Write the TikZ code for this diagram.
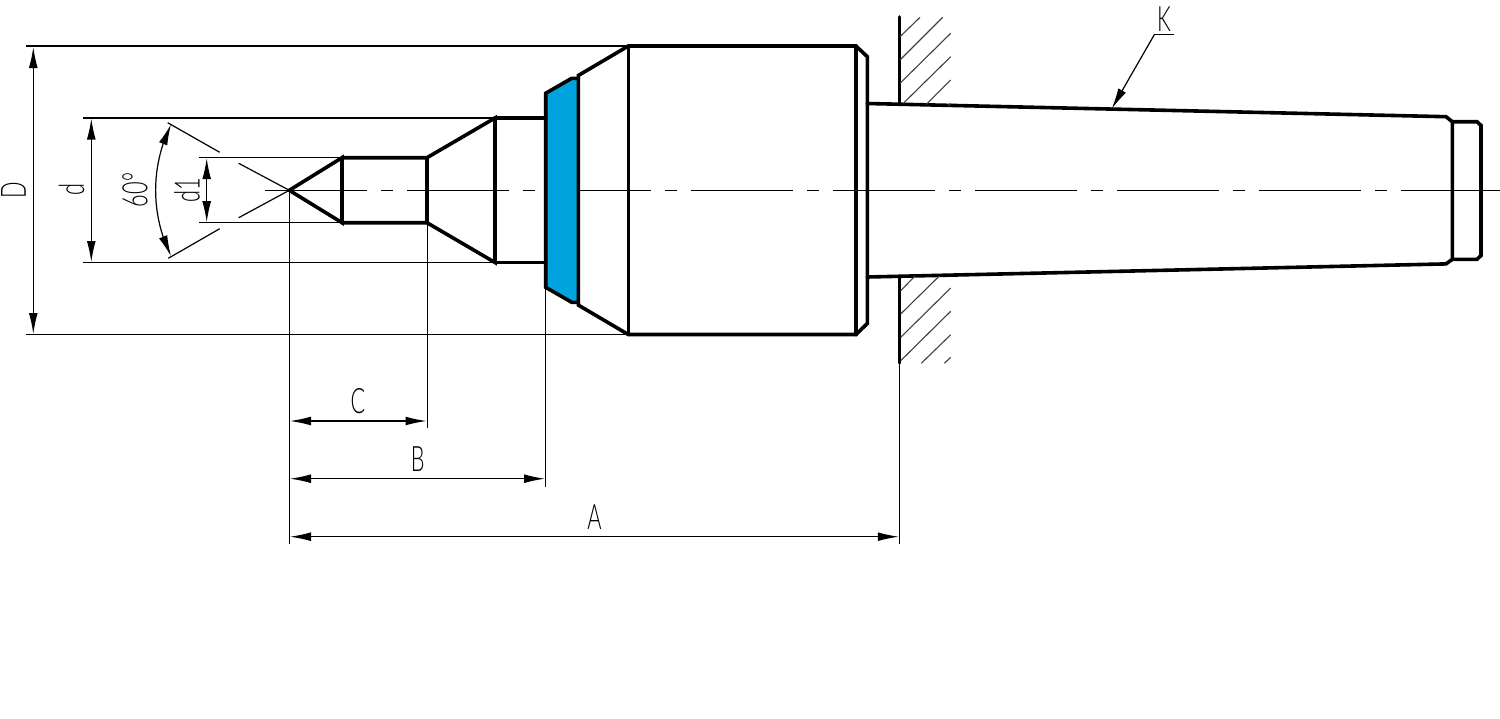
\documentclass[tikz,border=0pt]{standalone}
\usepackage{fontspec}
\setmainfont{Lato}[UprightFont=* Light]
\usetikzlibrary{arrows.meta,bending}
\definecolor{partblue}{HTML}{00A3DD}
\tikzset{
  x=0.5pt,y=-0.5pt,
  outline/.style={line width=1.8pt,line join=miter,line cap=round},
  thinl/.style={line width=0.6pt},
  hatch/.style={line width=0.55pt,black!75},
  dimen/.style={thinl,{Latex[length=10.5pt,width=4.4pt]}-{Latex[length=10.5pt,width=4.4pt]}},
  leader/.style={thinl,-{Latex[length=10.5pt,width=4.4pt]}},
  axisline/.style={thinl,dash pattern=on 51pt off 7pt on 6pt off 7pt},
  lab/.style={inner sep=0pt,font=\fontsize{17.5}{18}\selectfont,xscale=0.62},
  rlab/.style={inner sep=0pt,font=\fontsize{17.5}{18}\selectfont,rotate=90,xscale=0.62},
}
\begin{document}
\begin{tikzpicture}
\useasboundingbox (0,0) rectangle (1500,718);
% key points
\coordinate (tip) at (289.3,190.3);
\coordinate (n1t) at (342,157.7);
\coordinate (n1b) at (342,222.7);
\coordinate (n2t) at (427,157.7);
\coordinate (n2b) at (427,222.7);
\coordinate (n3t) at (495,118);
\coordinate (n3b) at (495,262.5);
\coordinate (bt) at (545.7,118);
\coordinate (bb) at (545.7,262.5);
\coordinate (bt1) at (545.7,93.3);
\coordinate (bb1) at (545.7,287.3);
\coordinate (bt2) at (571.7,78.3);
\coordinate (bb2) at (571.7,302.3);
\coordinate (bt3) at (578.3,78.3);
\coordinate (bb3) at (578.3,302.3);
\coordinate (ct) at (578.3,75.5);
\coordinate (cb) at (578.3,305.1);
\coordinate (bodyt) at (628.3,46);
\coordinate (bodyb) at (628.3,334.5);
\coordinate (bodyrt) at (856,46);
\coordinate (bodyrb) at (856,334.5);
\coordinate (wallb) at (899.3,544);
% axis
\draw[axisline] (265,190.3) -- (1500,190.3);
% blue ring
\draw[outline,fill=partblue] (bt1) -- (bt2) -- (bt3) -- (bb3) -- (bb2) -- (bb1) -- cycle;
% point and body
\draw[outline] (tip) -- (n1t) -- (n1b) -- cycle;
\draw[outline] (n1t) -- (n2t) -- (n3t) -- (n3b) -- (n2b) -- (n1b);
\draw[outline] (n2t) -- (n2b);
\draw[outline] (n3t) -- (bt);
\draw[outline] (n3b) -- (bb);
\draw[outline] (bt3) -- (ct) -- (bodyt) -- (bodyrt) -- (867.3,56.7) -- (867.3,323.5) -- (bodyrb) -- (bodyb) -- (cb) -- (bb3);
\draw[outline] (bodyt) -- (bodyb);
\draw[outline] (bodyrt) -- (bodyrb);
% morse taper
\draw[outline] (867.3,103.5) -- (1446,116.7) -- (1452.3,121.7) -- (1452.3,259.3) -- (1446,263.9) -- (867.3,277);
\draw[outline] (1452.3,121.7) -- (1477,121.7) -- (1481,125.5) -- (1481,255.5) -- (1477,259.3) -- (1452.3,259.3);
% wall
\draw[outline] (899.3,17) -- (899.3,103.5);
\draw[outline] (899.3,276.5) -- (899.3,363);
\foreach \a/\b/\c/\d in {
  900/36.7/920/17.3, 900/60/942.7/17.3, 900/83.3/950.7/33.3, 903.3/103.3/950.7/56.7,
  926/104.7/950.7/80, 948.3/106/950.7/103.3,
  900.7/290.7/915/276, 900.7/314/939.3/276, 900.7/337.3/950.7/288, 900.7/360.7/950.7/311.3,
  921.3/363.3/950.7/334.7, 944.3/363.3/950.7/357.3}
  \draw[hatch] (\a,\b) -- (\c,\d);
% extension lines
\draw[thinl] (26,46) -- (bodyt);
\draw[thinl] (26,334.5) -- (bodyb);
\draw[thinl] (83.3,118) -- (n3t);
\draw[thinl] (83.3,262.5) -- (n3b);
\draw[thinl] (199.3,157.7) -- (n1t);
\draw[thinl] (199.3,222.7) -- (n1b);
\draw[thinl] (tip) -- (289.3,544);
\draw[thinl] (427.4,222.7) -- (427.4,428);
\draw[thinl] (bb1) -- (545.7,486.7);
\draw[thinl] (899.3,363) -- (wallb);
\draw[thinl] (167.7,122.7) -- (219.7,152.3);
\draw[thinl] (168.3,258.3) -- (219.7,228.7);
\draw[thinl] (238.7,163.3) -- (tip) -- (238.7,217.7);
% dimensions
\draw[dimen] (33.3,47) -- (33.3,334);
\draw[dimen] (91.3,118.5) -- (91.3,262);
\draw[dimen] (206.7,158.2) -- (206.7,222.2);
\draw[dimen] (290,421) -- (426.5,421);
\draw[dimen] (290,478.7) -- (545,478.7);
\draw[dimen] (290,536.7) -- (898.8,536.7);
\draw[thinl,{Latex[length=10.5pt,width=4.4pt,flex]}-{Latex[length=10.5pt,width=4.4pt,flex]}]
  (171,124.3) .. controls (150.5,167) and (150.5,213.6) .. (171,256.3);
% K leader
\coordinate (kl) at (1174,34.7);
\coordinate (kr) at (1154.3,34.7);
\coordinate (ka) at (1111.7,108.8);
\draw[thinl] (kl) -- (kr);
\draw[leader] (kr) -- (ka);
% labels
\node[lab] (lA) at (594.5,517.5) {A};
\node[lab] (lB) at (417.7,459) {B};
\node[lab] (lC) at (358,401) {C};
\node[lab] (lK) at (1164,19) {K};
\node[rlab] (lD) at (13.5,190) {D};
\node[rlab] (ld) at (71.5,190) {d};
\node[rlab] (ld1) at (187,190) {d1};
\node[rlab] (l60) at (135,190) {60°};
\end{tikzpicture}
\end{document}
